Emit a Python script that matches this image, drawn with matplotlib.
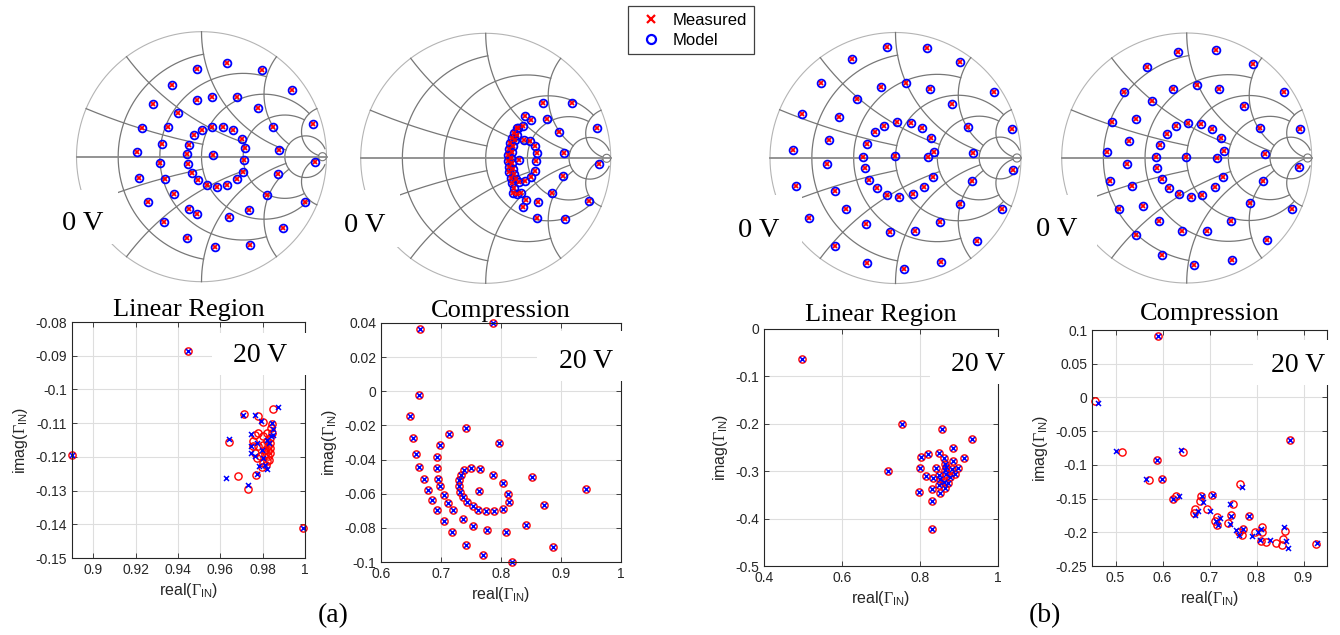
import numpy as np
import matplotlib
matplotlib.use('Agg')
import matplotlib.pyplot as plt
from matplotlib.lines import Line2D
from matplotlib.patches import Rectangle
from matplotlib.ticker import FuncFormatter

plt.rcParams['font.family'] = ['Liberation Sans', 'DejaVu Sans']
plt.rcParams['axes.unicode_minus'] = False
plt.rcParams['mathtext.fontset'] = 'custom'
plt.rcParams['mathtext.rm'] = 'Liberation Serif'
plt.rcParams['mathtext.sf'] = 'Liberation Sans'
plt.rcParams['mathtext.it'] = 'Liberation Serif:italic'

W, H = 1340, 635

# smith grid: resistance/reactance values and how far each one is drawn
grid_vals = [0.2, 0.5, 1.0, 2.0, 5.0]
grid_lims = [1.0, 2.0, 5.0, 5.0, 30.0]

# ---- top row: Gamma points on the smith charts (measured & model overlap) ----
smith1_pts = [(0.20, 0.75), (-0.04, 0.70), (0.48, 0.69), (-0.24, 0.57), (0.72, 0.53),
              (-0.39, 0.42), (0.08, 0.48), (-0.04, 0.45), (0.28, 0.48), (0.45, 0.39),
              (-0.19, 0.35), (-0.48, 0.23), (-0.27, 0.24), (0.00, 0.21), (0.08, 0.24),
              (0.17, 0.24), (0.25, 0.21), (0.32, 0.14), (0.57, 0.24), (0.89, 0.26),
              (-0.06, 0.17), (-0.10, 0.09), (0.35, 0.07), (-0.52, 0.04), (-0.32, 0.10),
              (-0.12, 0.02), (0.09, 0.01), (0.34, -0.03), (0.62, 0.05), (0.91, -0.04),
              (-0.33, -0.05), (-0.11, -0.06), (-0.50, -0.17), (-0.29, -0.18), (-0.08, -0.13),
              (-0.03, -0.19), (0.04, -0.23), (0.12, -0.24), (0.20, -0.23), (0.28, -0.18),
              (0.33, -0.12), (0.61, -0.14), (0.52, -0.31), (-0.22, -0.30), (-0.43, -0.36),
              (-0.10, -0.42), (-0.04, -0.46), (0.22, -0.48), (0.38, -0.43), (0.83, -0.36),
              (-0.30, -0.52), (0.65, -0.57), (-0.12, -0.65), (0.11, -0.72), (0.39, -0.71)]

smith2_pts = [(0.456, 0.443), (0.693, 0.445), (0.317, 0.339), (0.363, 0.307), (0.488, 0.312),
              (0.589, 0.211), (0.888, 0.243), (0.627, 0.045), (0.909, -0.045), (0.616, -0.139),
              (0.528, -0.280), (0.829, -0.344), (0.325, -0.333), (0.421, -0.347), (0.296, -0.392),
              (0.413, -0.475), (0.635, -0.485), (0.267, -0.013),
              (0.309, 0.146), (0.354, 0.138), (0.392, 0.101), (0.413, 0.042), (0.405, -0.019),
              (0.392, -0.102), (0.360, -0.150), (0.312, -0.181),
              (0.248, 0.240), (0.226, 0.200), (0.210, 0.160), (0.194, 0.120), (0.184, 0.074),
              (0.178, 0.026), (0.178, -0.022), (0.184, -0.067), (0.189, -0.112), (0.200, -0.155),
              (0.210, -0.198), (0.226, -0.240), (0.221, -0.280), (0.253, -0.283), (0.280, -0.280),
              (0.253, 0.187), (0.237, 0.146), (0.221, 0.101), (0.210, 0.053), (0.205, 0.005),
              (0.210, -0.040), (0.216, -0.085), (0.226, -0.128), (0.242, -0.166), (0.269, -0.187),
              (0.256, 0.245), (0.296, 0.256)]

smith3_pts = [(-0.068, 0.882), (0.248, 0.874), (-0.347, 0.789), (0.511, 0.768), (-0.594, 0.600),
              (-0.118, 0.568), (0.084, 0.595), (0.275, 0.547), (0.785, 0.526), (-0.307, 0.473),
              (0.453, 0.428), (-0.748, 0.353), (-0.450, 0.324), (-0.089, 0.258), (0.009, 0.290),
              (0.121, 0.282), (0.208, 0.236), (0.280, 0.162), (-0.163, 0.205), (0.578, 0.250),
              (0.926, 0.231), (-0.533, 0.143), (-0.224, 0.112), (-0.819, 0.064), (-0.256, 0.011),
              (-0.001, 0.016), (0.259, 0.008), (0.307, 0.050), (0.615, 0.037), (0.934, -0.093),
              (-0.543, -0.045), (-0.246, -0.080), (-0.214, -0.175), (-0.150, -0.242), (-0.070, -0.292),
              (0.031, -0.313), (0.142, -0.287), (0.230, -0.234), (0.296, -0.149), (0.610, -0.186),
              (-0.795, -0.220), (-0.485, -0.260), (-0.394, -0.406), (0.511, -0.367), (0.851, -0.406),
              (-0.687, -0.478), (-0.235, -0.526), (-0.046, -0.590), (0.158, -0.584), (0.355, -0.507),
              (0.647, -0.664), (-0.485, -0.699), (-0.230, -0.839), (0.065, -0.887), (0.363, -0.831)]

smith4_pts = [(-0.067, 0.851), (0.235, 0.864), (-0.320, 0.731), (0.533, 0.749), (-0.501, 0.525),
              (-0.112, 0.549), (0.085, 0.581), (0.261, 0.552), (0.779, 0.525), (-0.280, 0.453),
              (0.459, 0.419), (-0.600, 0.285), (-0.405, 0.309), (-0.085, 0.256), (0.011, 0.283),
              (0.112, 0.272), (0.203, 0.235), (0.277, 0.157), (-0.160, 0.195), (0.587, 0.237),
              (0.907, 0.232), (-0.464, 0.133), (-0.213, 0.107), (-0.635, 0.051), (-0.245, 0.008),
              (-0.005, 0.011), (0.245, 0.003), (0.299, 0.056), (0.627, 0.035), (0.901, -0.069),
              (-0.477, -0.051), (-0.235, -0.080), (-0.200, -0.171), (-0.144, -0.240), (-0.059, -0.288),
              (0.032, -0.312), (0.125, -0.299), (0.229, -0.232), (0.293, -0.149), (0.613, -0.181),
              (-0.613, -0.181), (-0.437, -0.224), (-0.347, -0.387), (-0.539, -0.408), (0.507, -0.363),
              (0.845, -0.408), (-0.219, -0.507), (-0.040, -0.581), (0.165, -0.581), (0.352, -0.507),
              (-0.405, -0.616), (0.640, -0.659), (-0.197, -0.779), (0.061, -0.856), (0.363, -0.816)]

# ---- bottom row: 20 V, real/imag of Gamma_IN ----
lin_a_model = [(0.945, -0.0886), (0.890, -0.1194), (0.9992, -0.1412), (0.9848, -0.1057),
               (0.9710, -0.1072), (0.9777, -0.1078), (0.9804, -0.1098), (0.9843, -0.1102),
               (0.9642, -0.1157), (0.9683, -0.1257), (0.9767, -0.1254), (0.9733, -0.1296),
               (0.9780, -0.1129), (0.9756, -0.1154), (0.9753, -0.1169), (0.9780, -0.1167),
               (0.9804, -0.1139), (0.9819, -0.1154), (0.9827, -0.1169), (0.9827, -0.1184),
               (0.9827, -0.1198), (0.9819, -0.1213), (0.9804, -0.1218), (0.9811, -0.1179),
               (0.9811, -0.1193), (0.9804, -0.1164), (0.9835, -0.1144), (0.9835, -0.1159),
               (0.9788, -0.1198), (0.9772, -0.1203), (0.9764, -0.1188), (0.9843, -0.1129),
               (0.9840, -0.1114), (0.9819, -0.1129), (0.9764, -0.1134), (0.9835, -0.1175),
               (0.9835, -0.1190), (0.9830, -0.1210), (0.9815, -0.1225), (0.9796, -0.1230)]
lin_a_meas = [(0.945, -0.0886), (0.890, -0.1194), (0.9992, -0.1412), (0.9874, -0.1053),
              (0.9705, -0.1076), (0.9764, -0.1075), (0.9793, -0.1093), (0.9843, -0.1100),
              (0.9642, -0.1148), (0.9626, -0.1263), (0.9772, -0.1250), (0.9733, -0.1284),
              (0.9744, -0.1131), (0.9848, -0.1117), (0.9772, -0.1159), (0.9744, -0.1169),
              (0.9744, -0.1189), (0.9813, -0.1223), (0.9785, -0.1226), (0.9819, -0.1235),
              (0.9804, -0.1203), (0.9796, -0.1179), (0.9819, -0.1149), (0.9838, -0.1139),
              (0.9764, -0.1198), (0.9848, -0.1135), (0.9830, -0.1160)]

comp_a_pts = [(0.6656, 0.0367), (0.7861, 0.0400), (0.6628, -0.0020), (0.6489, -0.0147),
              (0.6528, -0.0274), (0.6578, -0.0369), (0.6628, -0.0446), (0.6711, -0.0516),
              (0.6778, -0.0578), (0.6844, -0.0639), (0.6933, -0.0694), (0.7056, -0.0760),
              (0.7183, -0.0824), (0.7422, -0.0902), (0.7694, -0.0961), (0.8183, -0.1000),
              (0.8861, -0.0910), (0.8422, -0.0781), (0.8711, -0.0668), (0.8517, -0.0502),
              (0.9411, -0.0570), (0.8083, -0.0822), (0.7761, -0.0815), (0.7533, -0.0787),
              (0.7361, -0.0748), (0.7200, -0.0694), (0.7117, -0.0654), (0.7044, -0.0606),
              (0.6989, -0.0557), (0.6944, -0.0514), (0.6933, -0.0449), (0.6933, -0.0387),
              (0.6978, -0.0317), (0.7128, -0.0252), (0.7422, -0.0213), (0.7972, -0.0301),
              (0.8028, -0.0537), (0.8122, -0.0600), (0.8128, -0.0649), (0.8028, -0.0688),
              (0.7889, -0.0703), (0.7744, -0.0703), (0.7622, -0.0694), (0.7528, -0.0674),
              (0.7428, -0.0649), (0.7361, -0.0619), (0.7311, -0.0588), (0.7294, -0.0557),
              (0.7300, -0.0522), (0.7333, -0.0490), (0.7389, -0.0463), (0.7500, -0.0449),
              (0.7656, -0.0455), (0.7861, -0.0490), (0.7639, -0.0584)]

lin_b_pts = [(0.4974, -0.0634), (0.7547, -0.2007), (0.7179, -0.3000), (0.8564, -0.2120),
             (0.9342, -0.2324), (0.8846, -0.2507), (0.8034, -0.2690), (0.8214, -0.2641),
             (0.8479, -0.2606), (0.8615, -0.2718), (0.9120, -0.2718), (0.8855, -0.2775),
             (0.8650, -0.2838), (0.8000, -0.2937), (0.8419, -0.2930), (0.8983, -0.2930),
             (0.8632, -0.2979), (0.8821, -0.2958), (0.8162, -0.3099), (0.8333, -0.3134),
             (0.8487, -0.3085), (0.8675, -0.3049), (0.8889, -0.3063), (0.8761, -0.3120),
             (0.8615, -0.3225), (0.8726, -0.3246), (0.8479, -0.3296), (0.8650, -0.3345),
             (0.8316, -0.3380), (0.8521, -0.3451), (0.7974, -0.3430), (0.8316, -0.3627),
             (0.8308, -0.4225), (0.8521, -0.3169), (0.8658, -0.2908)]

comp_b_model = [(0.590, 0.091), (0.457, -0.006), (0.5143, -0.0814), (0.5878, -0.0932),
                (0.6436, -0.0804), (0.8706, -0.0636), (0.5708, -0.1224), (0.5984, -0.1214),
                (0.6295, -0.1456), (0.6224, -0.1511), (0.6818, -0.1456), (0.7058, -0.1451),
                (0.6804, -0.1535), (0.7653, -0.1288), (0.7497, -0.1585), (0.6684, -0.1659),
                (0.6677, -0.1718), (0.6938, -0.1654), (0.7151, -0.1772), (0.7454, -0.1748),
                (0.7843, -0.1758), (0.7115, -0.1837), (0.7165, -0.1896), (0.7398, -0.1856),
                (0.7723, -0.1950), (0.7624, -0.2000), (0.7681, -0.2039), (0.7971, -0.1995),
                (0.8112, -0.1925), (0.8119, -0.1995), (0.8091, -0.2123), (0.8197, -0.2148),
                (0.8423, -0.2158), (0.8564, -0.2099), (0.8607, -0.1975), (0.8543, -0.2187),
                (0.9271, -0.2173)]
comp_b_meas = [(0.590, 0.091), (0.462, -0.009), (0.5015, -0.0789), (0.5878, -0.0923),
               (0.6387, -0.0774), (0.8706, -0.0636), (0.5652, -0.1214), (0.5991, -0.1214),
               (0.6359, -0.1461), (0.6224, -0.1511), (0.6839, -0.1461), (0.7072, -0.1451),
               (0.6868, -0.1550), (0.7695, -0.1328), (0.7440, -0.1575), (0.6755, -0.1679),
               (0.6698, -0.1738), (0.7016, -0.1679), (0.7228, -0.1787), (0.7468, -0.1762),
               (0.7843, -0.1758), (0.7136, -0.1827), (0.7179, -0.1896), (0.7433, -0.1871),
               (0.7709, -0.1950), (0.7560, -0.1970), (0.7631, -0.2039), (0.7914, -0.2049),
               (0.8105, -0.1950), (0.8041, -0.1995), (0.8077, -0.2118), (0.8288, -0.2113),
               (0.8586, -0.1925), (0.8635, -0.2123), (0.8670, -0.2227), (0.9292, -0.2158)]

lin_a_xticks = [0.9, 0.92, 0.94, 0.96, 0.98, 1.0]
lin_a_yticks = [-0.15, -0.14, -0.13, -0.12, -0.11, -0.1, -0.09, -0.08]
comp_a_xticks = [0.6, 0.7, 0.8, 0.9, 1.0]
comp_a_yticks = [-0.1, -0.08, -0.06, -0.04, -0.02, 0, 0.02, 0.04]
lin_b_xticks = [0.4, 0.6, 0.8, 1.0]
lin_b_yticks = [-0.5, -0.4, -0.3, -0.2, -0.1, 0]
comp_b_xticks = [0.5, 0.6, 0.7, 0.8, 0.9]
comp_b_yticks = [-0.25, -0.2, -0.15, -0.1, -0.05, 0, 0.05, 0.1]


fig = plt.figure(figsize=(W / 100, H / 100), dpi=100)


def px_rect(x0, y0, x1, y1):
    return [x0 / W, 1 - y1 / H, (x1 - x0) / W, (y1 - y0) / H]


def white_box(x0, y0, x1, y1):
    fig.add_artist(Rectangle((x0 / W, 1 - y1 / H), (x1 - x0) / W, (y1 - y0) / H,
                             transform=fig.transFigure, facecolor='white',
                             edgecolor='none', zorder=4))


def gamma(z):
    return (z - 1) / (z + 1)


def smith(cx, cy, R, pts):
    m = 1.03
    ax = fig.add_axes(px_rect(cx - R * m, cy - R * m, cx + R * m, cy + R * m))
    ax.set_xlim(-m, m)
    ax.set_ylim(-m, m)
    ax.axis('off')
    t = np.linspace(0, 2 * np.pi, 721)
    ax.plot(np.cos(t), np.sin(t), color='#b4b4b4', lw=0.8)
    for v, lim in zip(grid_vals, grid_lims):
        xs = np.linspace(-lim, lim, 4000)
        g = gamma(v + 1j * xs)
        ax.plot(g.real, g.imag, color='#777777', lw=0.9)
        rs = np.linspace(0, lim, 4000)
        for s in (1, -1):
            g = gamma(rs + 1j * s * v)
            ax.plot(g.real, g.imag, color='#777777', lw=0.9)
    g = gamma(30 + 1j * np.linspace(-400, 400, 4000))
    ax.plot(g.real, g.imag, color='#777777', lw=0.8)
    ax.plot([-1, 1], [0, 0], color='#8a8a8a', lw=1.3)
    re, im = zip(*pts)
    ax.plot(re, im, 'o', mfc='none', mec='blue', ms=5.6, mew=1.3, clip_on=False)
    ax.plot(re, im, 'x', color='red', ms=3.4, mew=1.3, clip_on=False)
    return ax


def fmt(v, pos):
    return '%g' % (round(v, 6) + 0.0)


def scatter(rect, model, meas, xlim, ylim, xticks, yticks, title, tpad):
    ax = fig.add_axes(px_rect(*rect))
    mr, mi = zip(*model)
    ax.plot(mr, mi, 'o', mfc='none', mec='red', ms=5.2, mew=1.0, clip_on=False)
    sr, si = zip(*meas)
    ax.plot(sr, si, 'x', color='blue', ms=3.6, mew=1.1, clip_on=False)
    ax.set_xlim(*xlim)
    ax.set_ylim(*ylim)
    ax.set_xticks(xticks)
    ax.set_yticks(yticks)
    ax.xaxis.set_major_formatter(FuncFormatter(fmt))
    ax.yaxis.set_major_formatter(FuncFormatter(fmt))
    ax.grid(True, color='#dedede', lw=0.8)
    ax.set_axisbelow(True)
    for sp in ax.spines.values():
        sp.set_color('#262626')
        sp.set_linewidth(0.8)
    ax.tick_params(direction='in', length=3.5, top=True, right=True, labelsize=10,
                   labelcolor='#262626', color='#262626', width=0.6)
    ax.set_xlabel(r'real($\Gamma_{\mathsf{IN}}$)', fontsize=11.5, color='#262626', labelpad=3)
    ax.set_ylabel(r'imag($\Gamma_{\mathsf{IN}}$)', fontsize=11.5, color='#262626', labelpad=4)
    ax.set_title(title, fontfamily='Liberation Serif', fontsize=19, pad=tpad)
    return ax


smith(201.5, 156.7, 125, smith1_pts)
smith(485.7, 158.3, 125, smith2_pts)
smith(895.5, 158.0, 125.5, smith3_pts)
smith(1186.7, 158.0, 125, smith4_pts)

scatter((72, 322, 305, 558), lin_a_model, lin_a_meas, (0.89, 1.0), (-0.15, -0.08),
        lin_a_xticks, lin_a_yticks, 'Linear Region', 4)
scatter((381, 323, 621, 562), comp_a_pts, comp_a_pts, (0.6, 1.0), (-0.1, 0.04),
        comp_a_xticks, comp_a_yticks, 'Compression', 4)
scatter((764, 329, 998, 566), lin_b_pts, lin_b_pts, (0.4, 1.0), (-0.5, 0.0),
        lin_b_xticks, lin_b_yticks, 'Linear Region', 6)
scatter((1092, 330, 1327, 566), comp_b_model, comp_b_meas, (0.45, 0.95), (-0.25, 0.1),
        comp_b_xticks, comp_b_yticks, 'Compression', 7)

serif = 'Liberation Serif'
# "0 V" labels over the smith charts
for box, (xr, yb) in zip([(50, 190, 118, 244), (335, 190, 400, 247),
                          (728, 195, 802, 256), (1025, 195, 1097, 247)],
                         [(104, 230), (386, 232), (779, 237), (1078, 236)]):
    white_box(*box)
    fig.text(xr / W, 1 - yb / H, '0 V', ha='right', va='baseline',
             family=serif, fontsize=20.5, zorder=5)

# "20 V" labels over the scatter plots
for box, (xr, yb) in zip([(212, 333, 310, 375), (537, 331, 626, 381),
                          (930, 337, 1008, 384), (1253, 340, 1332, 385)],
                         [(287, 362), (613, 368), (1005, 371), (1325, 372)]):
    white_box(*box)
    fig.text(xr / W, 1 - yb / H, '20 V', ha='right', va='baseline',
             family=serif, fontsize=20, zorder=5)

fig.text(333 / W, 1 - 622 / H, '(a)', ha='center', va='baseline', family=serif, fontsize=20)
fig.text(1045 / W, 1 - 622 / H, '(b)', ha='center', va='baseline', family=serif, fontsize=20)

handles = [Line2D([], [], ls='none', marker='x', color='red', ms=6, mew=1.6),
           Line2D([], [], ls='none', marker='o', mfc='none', mec='blue', ms=6.5, mew=1.6)]
leg = fig.legend(handles, ['Measured', 'Model'], loc='upper left',
                 bbox_to_anchor=(628 / W, 1 - 6 / H), borderaxespad=0, fontsize=12,
                 frameon=True, fancybox=False, framealpha=1, edgecolor='#404040',
                 borderpad=0.4, labelspacing=0.3, handlelength=2.0, handletextpad=0.3)
leg.get_frame().set_linewidth(0.9)

fig.savefig('out.png', dpi=100)
